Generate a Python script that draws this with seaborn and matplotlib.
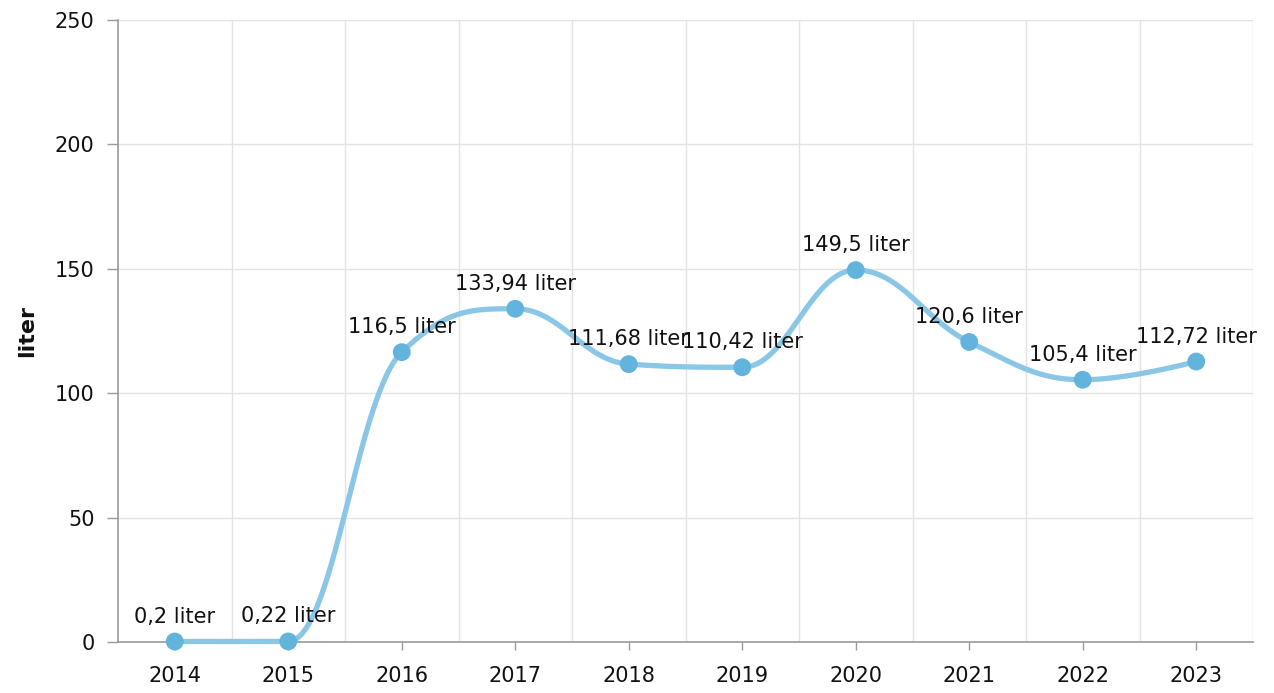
import numpy as np
import pandas as pd
import matplotlib
matplotlib.use("Agg")
import matplotlib.pyplot as plt
import seaborn as sns

# Data
years = ["2014", "2015", "2016", "2017", "2018", "2019", "2020", "2021", "2022", "2023"]
values = [0.2, 0.22, 116.5, 133.94, 111.68, 110.42, 149.5, 120.6, 105.4, 112.72]
labels = ["0,2 liter", "0,22 liter", "116,5 liter", "133,94 liter", "111,68 liter",
          "110,42 liter", "149,5 liter", "120,6 liter", "105,4 liter", "112,72 liter"]

sns.set_style("white")
plt.rcParams["font.family"] = ["DejaVu Sans"]

fig = plt.figure(figsize=(12.74, 6.93), dpi=100)
ax = fig.add_axes([118 / 1274, 1 - 642 / 693, (1253 - 118) / 1274, (642 - 20) / 693])
ax.set_xlim(-0.5, 9.5)
ax.set_ylim(0, 250)

# Spline smoothing (bezier control points, smoothing factor 1.5)
# done in pixel-like scale so the curve shape matches the picture
sx = 113.5
sy = 622 / 250
px = np.arange(len(values)) * sx
py = np.array(values) * sy
n = len(values)
lc = [None] * n
rc = [None] * n
sm = 1.5
den = sm + 1
for i in range(1, n - 1):
    lx = (sm * px[i] + px[i - 1]) / den
    ly = (sm * py[i] + py[i - 1]) / den
    rx = (sm * px[i] + px[i + 1]) / den
    ry = (sm * py[i] + py[i + 1]) / den
    corr = (ry - ly) * (rx - px[i]) / (rx - lx) + py[i] - ry
    ly += corr
    ry += corr
    if ly > py[i - 1] and ly > py[i]:
        ly = max(py[i - 1], py[i]); ry = 2 * py[i] - ly
    elif ly < py[i - 1] and ly < py[i]:
        ly = min(py[i - 1], py[i]); ry = 2 * py[i] - ly
    if ry > py[i + 1] and ry > py[i]:
        ry = max(py[i + 1], py[i]); ly = 2 * py[i] - ry
    elif ry < py[i + 1] and ry < py[i]:
        ry = min(py[i + 1], py[i]); ly = 2 * py[i] - ry
    lc[i] = (lx, ly)
    rc[i] = (rx, ry)

cx, cy = [], []
t = np.linspace(0, 1, 60)
for i in range(n - 1):
    p0 = np.array([px[i], py[i]])
    p3 = np.array([px[i + 1], py[i + 1]])
    p1 = np.array(rc[i]) if rc[i] is not None else p0
    p2 = np.array(lc[i + 1]) if lc[i + 1] is not None else p3
    for tt in t:
        b = ((1 - tt) ** 3) * p0 + 3 * ((1 - tt) ** 2) * tt * p1 + 3 * (1 - tt) * tt ** 2 * p2 + tt ** 3 * p3
        cx.append(b[0] / sx)
        cy.append(b[1] / sy)

curve = pd.DataFrame({"x": cx, "y": cy})
pts = pd.DataFrame({"x": np.arange(n), "y": values})

sns.lineplot(data=curve, x="x", y="y", ax=ax, color="#8ac6e6", linewidth=3.8,
             sort=False, estimator=None, clip_on=False, zorder=3)
sns.scatterplot(data=pts, x="x", y="y", ax=ax, color="#62b4dc", s=165,
                edgecolor="none", clip_on=False, zorder=4)

for i in range(n):
    ax.annotate(labels[i], (i, values[i]), xytext=(0, 18), textcoords="offset points",
                ha="center", va="center", fontsize=15, color="#111111", zorder=5)

# Grid: horizontal at y ticks, vertical at category boundaries
ax.set_yticks([0, 50, 100, 150, 200, 250])
ax.set_xticks(range(n))
ax.set_xticklabels(years)
for b in np.arange(0.5, 9.5, 1):
    ax.axvline(b, color="#e3e3e3", linewidth=1, zorder=0)
ax.axvline(9.5, color="#e3e3e3", linewidth=1, zorder=0)
for yv in [50, 100, 150, 200, 250]:
    ax.axhline(yv, color="#e3e3e3", linewidth=1, zorder=0)

for s in ["top", "right"]:
    ax.spines[s].set_visible(False)
ax.spines["left"].set_color("#9a9a9a")
ax.spines["bottom"].set_color("#9a9a9a")
ax.spines["left"].set_linewidth(1.2)
ax.spines["bottom"].set_linewidth(1.2)
ax.tick_params(axis="y", direction="out", length=8, width=1, color="#9a9a9a",
               labelsize=15, labelcolor="#111111", pad=9)
ax.tick_params(axis="x", direction="out", length=6, width=1, color="#9a9a9a",
               labelsize=15, labelcolor="#111111", pad=11)
ax.yaxis.set_ticks_position("left")
ax.xaxis.set_ticks_position("bottom")

ax.set_xlabel("")
ax.set_ylabel("")
fig.text(27 / 1274, 1 - 331 / 693, "liter", rotation=90, ha="center", va="center",
         fontsize=16, fontweight="bold", color="#111111")

fig.savefig("out.png", dpi=100)
